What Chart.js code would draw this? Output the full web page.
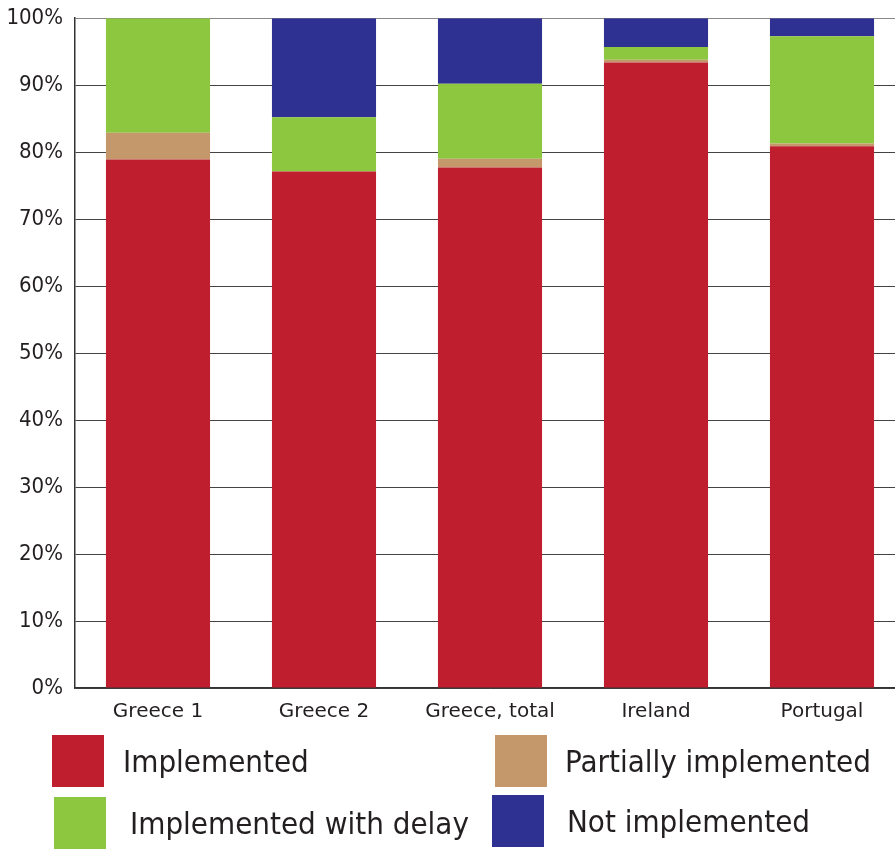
<!DOCTYPE html>
<html>
<head>
<meta charset="utf-8">
<script src="https://cdn.jsdelivr.net/npm/chart.js@4/dist/chart.umd.min.js"></script>
<style>
  html, body { margin: 0; padding: 0; background: #fff; overflow: hidden; width: 895px; height: 851px; }
  #wrap { position: absolute; left: 0; top: -7px; width: 910px; height: 737px; }
  #legend { position: absolute; left: 0; top: 0; width: 895px; height: 851px; pointer-events: none; }
  .item { position: absolute; display: flex; align-items: center; }
  .sw { width: 52px; height: 52px; flex: none; }
  .lbl { font-family: "DejaVu Sans Condensed", "DejaVu Sans", sans-serif; font-stretch: condensed; font-size: 31px; color: #231F20; white-space: nowrap; }
</style>
</head>
<body>
<div id="wrap"><canvas id="c" width="910" height="737"></canvas></div>
<div id="legend"></div>
<script>
const categories = ["Greece 1", "Greece 2", "Greece, total", "Ireland", "Portugal"];
const implemented = [78.9, 77.1, 77.7, 93.4, 80.9];
const partiallyImplemented = [4.0, 0, 1.3, 0.4, 0.4];
const implementedWithDelay = [17.1, 8.1, 11.2, 1.9, 16.0];
const notImplemented = [0, 14.8, 9.8, 4.3, 2.7];
const yTicks = [0, 10, 20, 30, 40, 50, 60, 70, 80, 90, 100];

const seriesNames = ["Implemented", "Partially implemented", "Implemented with delay", "Not implemented"];
const seriesColors = ["#BE1E2D", "#C4986A", "#8DC63F", "#2E3192"];
const seriesValues = [implemented, partiallyImplemented, implementedWithDelay, notImplemented];

const datasets = seriesNames.map((name, i) => ({
  label: name,
  data: seriesValues[i],
  backgroundColor: seriesColors[i],
  borderWidth: 0,
  categoryPercentage: 1.0,
  barPercentage: 0.627
}));

new Chart(document.getElementById("c"), {
  type: "bar",
  data: { labels: categories, datasets },
  options: {
    responsive: false,
    animation: false,
    layout: { padding: { top: 11, right: 5, left: 0, bottom: 0 } },
    plugins: { legend: { display: false }, tooltip: { enabled: false } },
    scales: {
      x: {
        stacked: true,
        grid: { display: false, drawTicks: false },
        border: { display: true, color: "#333", width: 1.5 },
        ticks: { font: { family: "'DejaVu Sans', sans-serif", size: 20 }, color: "#231F20", padding: 12 },
        afterFit: (s) => { s.height = 42; }
      },
      y: {
        stacked: true,
        min: 0, max: 100,
        afterBuildTicks: (s) => { s.ticks = yTicks.map(v => ({ value: v })); },
        grid: { color: (ctx) => ctx.tick && ctx.tick.value === 100 ? "#888" : "#444", lineWidth: 1, drawTicks: false },
        border: { display: true, color: "#333", width: 1.5 },
        ticks: {
          font: { family: "'DejaVu Sans Condensed', 'DejaVu Sans', sans-serif", size: 22 },
          color: "#231F20", padding: 12,
          callback: (v) => v + "%"
        },
        afterFit: (s) => { s.width = 75; }
      }
    }
  }
});

// HTML legend built from the dataset names/colours
const legendPos = [
  { left: 52, top: 735, gap: 19 },
  { left: 495, top: 735, gap: 18 },
  { left: 54, top: 797, gap: 24 },
  { left: 492, top: 795, gap: 23 }
];
const legend = document.getElementById("legend");
seriesNames.forEach((name, i) => {
  const it = document.createElement("div");
  it.className = "item";
  it.style.left = legendPos[i].left + "px";
  it.style.top = legendPos[i].top + "px";
  const sw = document.createElement("div");
  sw.className = "sw";
  sw.style.background = seriesColors[i];
  const lb = document.createElement("span");
  lb.className = "lbl";
  lb.style.marginLeft = legendPos[i].gap + "px";
  lb.textContent = name;
  it.appendChild(sw); it.appendChild(lb);
  legend.appendChild(it);
});
</script>
</body>
</html>
